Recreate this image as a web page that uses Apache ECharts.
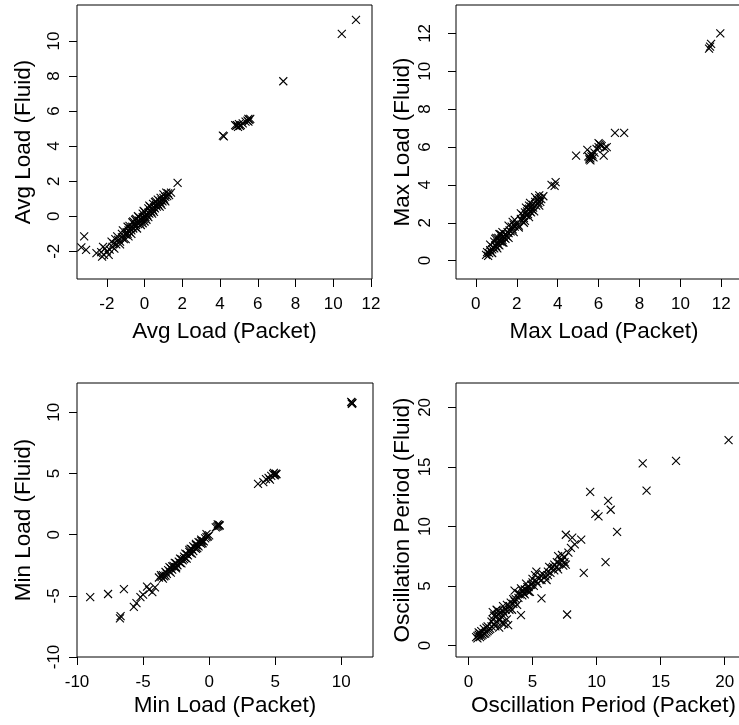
<!DOCTYPE html>
<html>
<head>
<meta charset="utf-8">
<script src="https://cdn.jsdelivr.net/npm/echarts@6/dist/echarts.min.js"></script>
<style>
html,body{margin:0;padding:0;background:#fff;}
#c{width:739px;height:725px;}
</style>
</head>
<body>
<div id="c"></div>
<script>
// ---- Data: [packet, fluid] pairs per panel ----
const avgPoints = [
 [11.2,11.2],[10.45,10.4],[7.35,7.7],[4.2,4.55],[4.15,4.6],
 [4.85,5.15],[4.9,5.2],[4.95,5.1],[5.05,5.15],[5.1,5.2],[5.2,5.3],[5.35,5.4],[5.45,5.45],[5.5,5.55],[5.55,5.5],[5.5,5.4],[4.8,5.2],[5.0,5.25],[5.6,5.55],
 [1.75,1.9],
 [-3.2,-1.15],[-3.35,-1.78],[-3.1,-1.92],[-2.55,-2.1],[-2.2,-1.75],[-2.3,-2.05],[-2.25,-2.3],[-2.15,-2.2],[-2.0,-2.0],[-1.85,-1.9],[-1.7,-1.75],[-1.65,-1.55],[-1.5,-1.6],[-1.4,-1.35],[-1.3,-1.45],[-1.2,-1.2],[-1.1,-1.3],
 [-1.0,-1.05],[-0.95,-0.9],[-0.9,-1.0],[-0.85,-0.8],[-0.8,-0.9],[-0.75,-0.7],[-0.7,-0.8],[-0.65,-0.6],[-0.6,-0.7],[-0.55,-0.45],[-0.5,-0.6],[-0.45,-0.5],[-0.4,-0.35],[-0.35,-0.45],[-0.3,-0.25],[-0.25,-0.35],[-0.2,-0.15],[-0.15,-0.25],[-0.1,-0.05],[-0.05,-0.15],
 [0,0],[0.05,-0.05],[0.1,0.1],[0.15,0.05],[0.2,0.2],[0.25,0.15],[0.3,0.3],[0.35,0.25],[0.4,0.45],[0.45,0.35],[0.5,0.5],[0.55,0.45],[0.6,0.65],[0.65,0.55],[0.7,0.7],[0.75,0.6],[0.8,0.85],[0.85,0.75],[0.9,0.9],[0.95,0.85],[1.0,1.05],[1.05,0.95],[1.1,1.1],[1.2,1.15],[1.25,1.3],[1.3,1.2],
 [-0.6,-0.3],[-0.3,-0.05],[0.0,0.25],[0.3,0.55],[-0.8,-0.55],[0.6,0.85],[-0.5,-0.2],[0.2,0.45],[0.7,0.95],[-1.2,-1.0],[0.1,-0.2],[-0.2,-0.5],[0.4,0.15],[-0.1,0.15],
 [-1.9,-2.2],[-1.6,-1.85],[-1.3,-1.6],[-1.0,-1.3],[-0.7,-1.0],[-0.4,-0.7],[-0.1,-0.4],[0.2,-0.05],[0.5,0.25],[0.8,0.55],[1.1,0.85],
 [-1.75,-1.45],[-1.45,-1.15],[-1.15,-0.8],[-0.9,-0.6],[-0.65,-0.35],[-0.35,0.0],[-0.05,0.3],[0.25,0.6],[0.55,0.8],[0.85,1.05],[1.15,1.35],[1.4,1.35],
 [-2.1,-1.85],[-0.85,-1.15],[0.0,-0.3],[0.9,0.65],[-0.45,-0.15],[0.45,0.7],[-1.55,-1.3],[1.0,1.25]
];
const maxPoints = [
 [11.95,12.0],[11.5,11.45],[11.4,11.2],[11.45,11.3],
 [7.25,6.75],[6.8,6.75],[4.9,5.55],
 [5.45,5.85],[5.5,5.5],[5.55,5.35],[5.6,5.4],[5.65,5.5],[5.6,5.3],[5.7,5.6],[5.8,5.7],[5.9,5.9],[6.0,6.0],[6.05,6.15],[6.1,6.1],[6.0,6.2],[6.25,5.55],[6.4,6.0],[6.3,5.95],[5.75,5.45],[5.55,5.45],[5.65,5.65],[6.15,6.05],
 [3.7,4.0],[3.9,4.15],[3.85,3.95],
 [0.5,0.3],[0.55,0.45],[0.6,0.25],[0.65,0.4],[0.7,0.55],[0.75,0.45],[0.8,0.6],[0.85,0.7],[0.9,0.65],[0.95,0.8],[1.0,0.75],[1.05,0.95],[1.1,0.85],[1.15,1.05],[1.2,1.0],[1.25,1.2],[1.3,1.1],[1.35,1.3],[1.4,1.2],[1.45,1.4],[1.5,1.3],[1.55,1.5],[1.6,1.45],[1.65,1.6],[1.7,1.55],[1.75,1.8],[1.8,1.65],[1.85,1.9],[1.9,1.8],[2.0,1.95],[2.1,1.85],[2.2,2.2],[2.25,2.1],[2.3,2.4],[2.35,2.25],[2.4,2.55],[2.45,2.4],[2.5,2.6],[2.55,2.45],[2.6,2.75],[2.65,2.6],[2.7,2.85],[2.75,2.7],[2.8,2.95],[2.9,3.1],[2.95,2.9],[3.0,3.2],[3.05,3.05],[3.1,3.3],[3.2,3.25],[3.3,3.4],
 [1.0,1.2],[1.2,1.4],[1.3,0.95],[0.9,1.0],[1.8,2.05],[2.6,2.9],[2.7,2.55],[1.15,0.8],[2.4,2.1],
 [0.7,0.85],[0.95,1.15],[1.15,1.4],[1.3,1.5],[1.6,1.85],[1.9,2.15],[2.2,2.5],[2.45,2.8],[2.65,3.05],[2.9,3.35],[3.1,3.45],
 [0.8,0.4],[1.05,0.65],[1.35,0.95],[1.6,1.2],[1.85,1.5],[2.1,1.75],[2.35,2.0],[2.6,2.3],[2.85,2.6],[3.1,2.9],
 [1.25,1.35],[1.45,1.15],[2.55,2.7],[2.8,2.8],[3.15,3.1],[1.1,1.2]
];
const minPoints = [
 [10.8,10.8],[10.75,10.85],[10.85,10.75],[10.8,10.7],
 [3.7,4.15],[4.1,4.3],[4.3,4.55],[4.5,4.65],[4.7,4.8],[4.85,4.95],[4.9,5.05],[5.0,4.9],[5.05,5.0],[5.1,4.95],[4.6,4.5],[4.95,4.85],
 [0.75,0.8],[0.7,0.7],[0.8,0.75],[0.6,0.65],[0.5,0.6],[0.65,0.85],
 [-9.0,-5.1],[-7.65,-4.85],[-6.45,-4.45],[-6.75,-6.85],[-6.7,-6.65],[-5.7,-5.9],[-5.5,-5.6],[-5.2,-5.1],[-5.0,-4.9],[-4.7,-4.25],[-4.55,-4.5],[-4.3,-4.7],[-4.1,-4.3],
 [-3.8,-3.5],[-3.6,-3.45],[-3.5,-3.3],[-3.4,-3.4],[-3.3,-3.05],[-3.2,-3.2],[-3.1,-2.9],[-3.0,-3.0],[-2.9,-2.75],[-2.8,-2.85],[-2.7,-2.55],[-2.6,-2.65],[-2.5,-2.35],[-2.4,-2.5],[-2.3,-2.2],[-2.2,-2.3],[-2.1,-2.0],[-2.0,-2.1],[-1.9,-1.8],[-1.8,-1.9],[-1.7,-1.6],[-1.6,-1.7],[-1.5,-1.4],[-1.4,-1.5],[-1.3,-1.2],[-1.2,-1.35],[-1.1,-1.05],[-1.0,-1.15],[-0.9,-0.85],[-0.8,-0.95],[-0.7,-0.65],[-0.6,-0.75],[-0.5,-0.5],[-0.4,-0.55],[-0.3,-0.3],[-0.2,-0.2],[-0.1,-0.15],[0,-0.05],
 [-2.5,-2.65],[-1.9,-2.0],[-1.5,-1.25],[-1.0,-0.85],[-3.3,-3.35],[-2.8,-2.6],[-0.6,-0.5],
 [-3.0,-2.65],[-2.6,-2.3],[-2.2,-1.95],[-1.8,-1.55],[-1.4,-1.15],[-1.0,-0.75],[-0.6,-0.4],[-0.2,0.05],
 [-2.9,-3.1],[-2.5,-2.75],[-2.1,-2.35],[-1.7,-1.95],[-1.3,-1.55],[-0.9,-1.1],[-0.5,-0.7],
 [-3.5,-3.6],[-3.65,-3.3],[-1.2,-0.95],[-0.8,-0.6]
];
const oscPoints = [
 [20.3,17.25],[16.2,15.5],[13.6,15.3],[13.9,13.0],[9.5,12.9],[10.9,12.15],[11.1,11.4],[9.9,11.05],[10.15,10.85],[11.6,9.55],[10.7,7.0],[9.0,6.1],[7.7,2.6],[5.7,3.95],[4.1,2.55],
 [8.8,8.9],[7.6,9.3],[8.1,9.05],[8.3,8.5],[8.0,8.2],[7.8,7.8],[7.5,7.4],[7.3,7.6],[7.2,7.2],[7.0,7.5],[7.1,6.9],[7.4,6.7],[7.6,6.8],[6.9,7.0],[6.7,6.8],[6.5,6.5],[6.3,6.6],[6.2,6.2],[6.0,5.8],[6.4,6.1],[5.8,6.0],[5.5,5.6],[5.3,6.2],[5.2,5.9],[5.0,5.3],[5.1,5.0],[4.9,5.1],[4.7,4.9],[4.6,4.6],[4.4,4.7],[4.3,4.4],[4.2,4.2],[4.0,4.3],[3.9,4.0],[3.7,3.9],[3.6,4.6],[3.5,3.5],[3.3,3.6],[3.2,3.3],[3.0,3.4],[2.9,3.0],[2.8,2.7],[2.7,3.3],[2.6,2.4],[2.5,2.8],[2.4,2.2],[2.3,2.6],[2.2,2.0],[2.1,2.4],[2.0,1.8],[1.9,2.2],[1.8,1.6],[1.7,1.4],[1.6,1.3],[1.5,1.2],[1.4,1.1],[1.3,1.0],[1.2,1.0],[1.1,0.9],[1.0,0.8],[0.9,0.7],[0.8,0.9],[0.7,0.6],[0.6,0.7],[0.8,1.1],[1.0,1.2],
 [1.9,2.8],[2.2,3.0],[2.8,1.8],[3.0,2.2],[2.6,1.9],[3.1,1.7],[2.4,1.5],[4.5,5.2],[4.8,4.5],[5.4,5.2],[6.1,5.5],[6.7,6.3],[7.0,6.4],[7.5,7.0],[5.6,5.9],[4.1,4.8],[3.8,3.4],[3.4,3.0],
 [1.2,1.4],[1.5,1.6],[1.8,2.0],[2.1,1.6],[2.3,2.9],[2.5,2.2],[2.7,2.9],[3.2,3.0],[3.6,3.7],[3.9,4.4],[4.2,4.6],[4.4,4.3],[4.7,4.5],[5.0,5.6],[5.3,5.4],[5.7,5.5],[6.2,5.9],[6.6,6.6],[6.9,6.6],[7.3,7.1],[0.9,1.0],[0.7,0.8],[1.4,1.5],[2.0,2.5],[3.5,3.9],[4.6,4.9]
];

// ---- Tick labels ----
const avgXTicks = [-2,0,2,4,6,8,10,12];
const avgYTicks = [-2,0,2,4,6,8,10];
const maxXTicks = [0,2,4,6,8,10,12];
const maxYTicks = [0,2,4,6,8,10,12];
const minXTicks = [-10,-5,0,5,10];
const minYTicks = [-10,-5,0,5,10];
const oscXTicks = [0,5,10,15,20];
const oscYTicks = [0,5,10,15,20];

// ---- Axis titles ----
const titles = [
 ['Avg Load (Packet)','Avg Load (Fluid)'],
 ['Max Load (Packet)','Max Load (Fluid)'],
 ['Min Load (Packet)','Min Load (Fluid)'],
 ['Oscillation Period (Packet)','Oscillation Period (Fluid)']
];

const FONT = 'Liberation Sans, Arial, sans-serif';
const panels = [
 {grid:{left:77,top:5,width:295,height:274}, range:[-3.58,12.05], xt:avgXTicks, yt:avgYTicks, data:avgPoints, ylm:14, xng:41},
 {grid:{left:456,top:5,width:296,height:274}, range:[-0.97,13.5], xt:maxXTicks, yt:maxYTicks, data:maxPoints, ylm:22, xng:41},
 {grid:{left:77,top:383,width:296,height:274}, range:[-10,12.4], xt:minXTicks, yt:minYTicks, data:minPoints, ylm:14, xng:37},
 {grid:{left:456,top:383,width:295,height:274}, range:[-0.97,22.05], xt:oscXTicks, yt:oscYTicks, data:oscPoints, ylm:22, xng:37}
];

const grids=[], xAxes=[], yAxes=[], series=[];
panels.forEach((p,i)=>{
  grids.push(Object.assign({show:true, borderColor:'#000', borderWidth:1, backgroundColor:'transparent', containLabel:false, outerBoundsMode:'none'}, p.grid));
  const common = {
    type:'value', gridIndex:i, min:p.range[0], max:p.range[1],
    splitLine:{show:false}, axisLine:{show:false, onZero:false},
    nameLocation:'middle',
    nameTextStyle:{fontFamily:FONT, fontSize:22.5, color:'#000'}
  };
  xAxes.push(Object.assign({}, common, {
    position:'bottom',
    name:titles[i][0], nameGap:p.xng,
    axisTick:{show:true, length:8, lineStyle:{color:'#000', width:1}, customValues:p.xt},
    axisLabel:{fontFamily:FONT, fontSize:17, color:'#000', margin:17, customValues:p.xt}
  }));
  yAxes.push(Object.assign({}, common, {
    position:'left',
    name:titles[i][1], nameGap:42,
    axisTick:{show:true, length:8, lineStyle:{color:'#000', width:1}, customValues:p.yt},
    axisLabel:{fontFamily:FONT, fontSize:17, color:'#000', margin:p.ylm, rotate:90, customValues:p.yt}
  }));
  series.push({
    type:'scatter', xAxisIndex:i, yAxisIndex:i, data:p.data,
    symbol:'path://M0,0L8,8M8,0L0,8', symbolSize:8,
    itemStyle:{color:'#000', borderColor:'#000', borderWidth:1.1, opacity:1},
    emphasis:{disabled:true}, silent:true, clip:false
  });
});

const chart = echarts.init(document.getElementById('c'), null, {renderer:'canvas'});
chart.setOption({
  animation:false,
  backgroundColor:'#fff',
  grid:grids, xAxis:xAxes, yAxis:yAxes, series:series
});
</script>
</body>
</html>
